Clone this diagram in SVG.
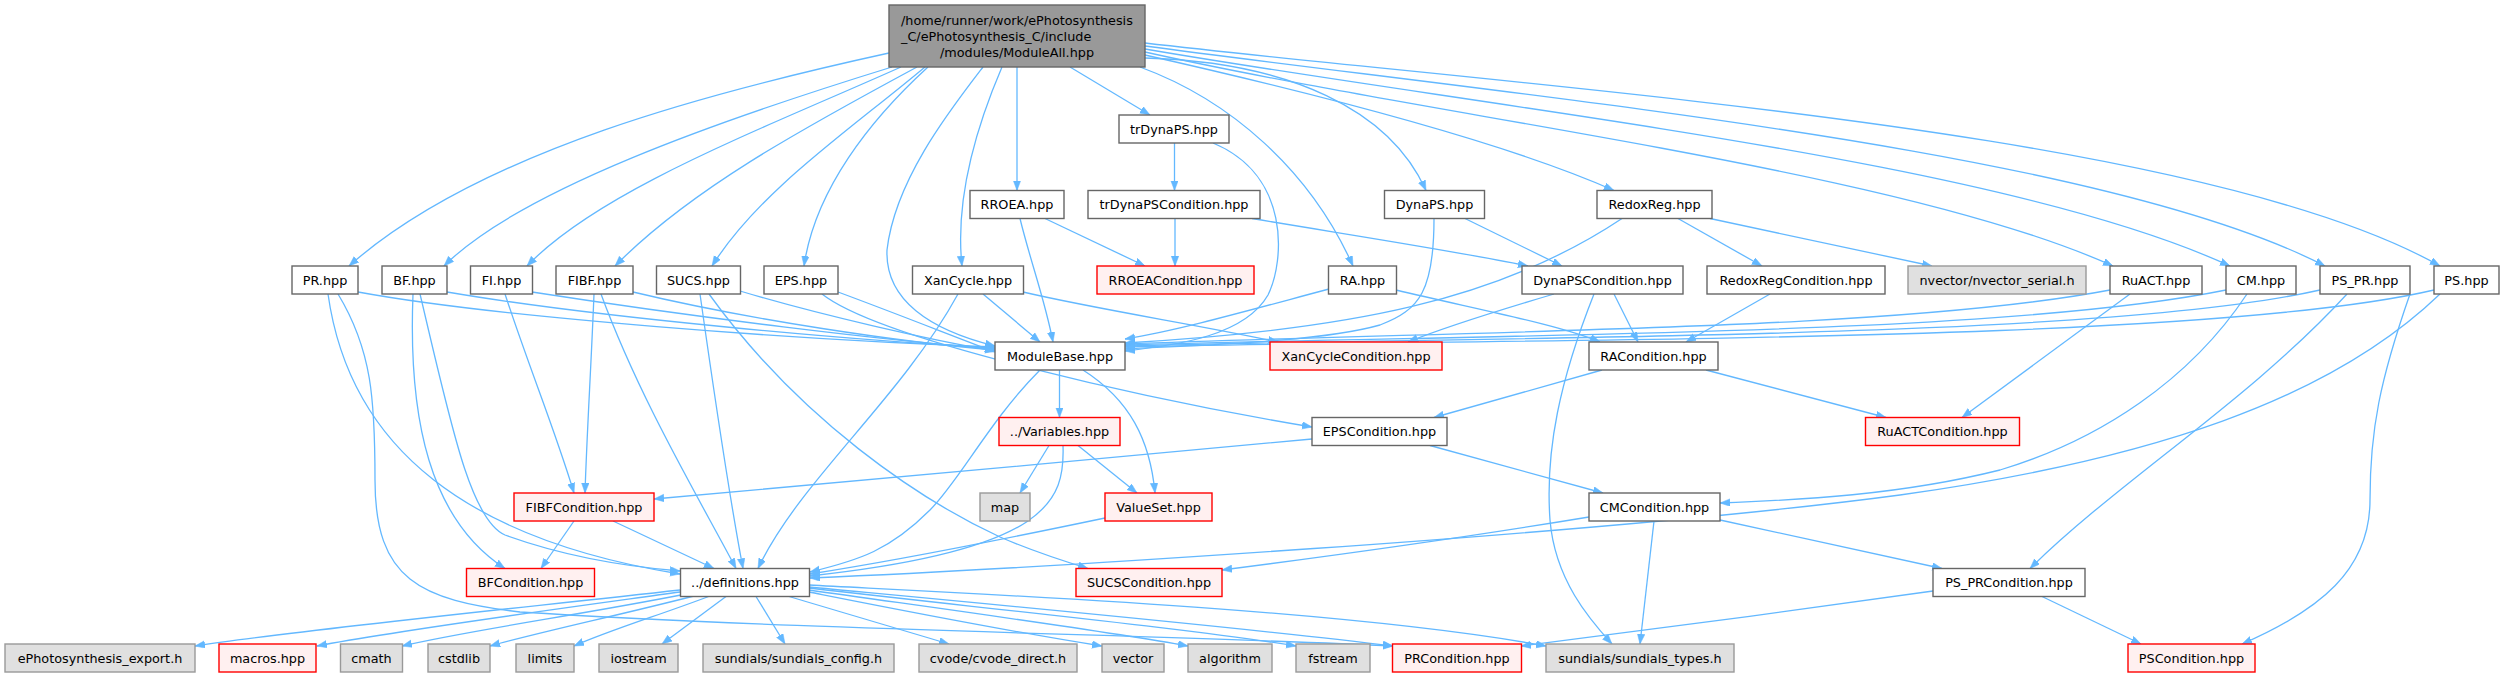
<svg xmlns="http://www.w3.org/2000/svg" width="2505" height="678" viewBox="0 0 2505 678">
<style>
rect{stroke-width:1.4}
.n rect{fill:#ffffff;stroke:#666666}
.r rect{fill:#fff0f0;stroke:#ff0000}
.g rect{fill:#e0e0e0;stroke:#999999}
.m rect{fill:#999999;stroke:#666666}
text{font-family:"DejaVu Sans",sans-serif;font-size:12.8px;fill:#000000;text-anchor:middle}
#edges path{fill:none;stroke:#63b8ff;stroke-width:1.3;marker-end:url(#ah)}
</style>
<defs>
<marker id="ah" markerUnits="userSpaceOnUse" markerWidth="11" markerHeight="9" refX="10" refY="3.75" orient="auto">
<path d="M0,0 L10,3.75 L0,7.5 z" fill="#63b8ff" stroke="#63b8ff" stroke-width="0.5"/>
</marker>
</defs>
<rect x="0" y="0" width="2505" height="678" fill="#ffffff"/>
<g id="edges">
<path d="M889,53 C720,90 480,150 349,266"/>
<path d="M892,67 C720,120 520,190 444,266"/>
<path d="M901,67 C760,130 600,190 527,266"/>
<path d="M917,67 C800,130 690,190 615,266"/>
<path d="M925,67 C850,130 760,190 712,266"/>
<path d="M928,67 C870,120 815,190 804,266"/>
<path d="M983,67 C950,110 895,180 887,250 C885,300 930,330 995,346"/>
<path d="M1002,67 C975,130 955,200 962,266"/>
<path d="M1017,67 L1017,190.5"/>
<path d="M1070,67 L1150,115"/>
<path d="M1140,67 C1230,100 1310,170 1353,266"/>
<path d="M1145,58 C1290,62 1390,110 1426,190.5"/>
<path d="M1145,55 C1300,90 1500,140 1614,190.5"/>
<path d="M1145,52 C1450,120 1900,170 2113,266"/>
<path d="M1145,49 C1500,110 2000,160 2230,266"/>
<path d="M1145,46 C1550,100 2100,150 2325,266"/>
<path d="M1145,43 C1550,90 2200,130 2440,266"/>
<path d="M1174.5,143 L1174.5,190.5"/>
<path d="M1213,143 C1290,175 1285,260 1268,295 C1245,335 1180,345 1125,351"/>
<path d="M1175,218.5 L1175,266"/>
<path d="M1252,218.5 C1350,235 1450,250 1528,266"/>
<path d="M1045,218.5 L1145,266"/>
<path d="M1020,218.5 C1030,260 1045,300 1053,342"/>
<path d="M1465,218.5 L1562,266"/>
<path d="M1434,218.5 C1434,290 1420,310 1380,325 C1320,342 1200,345 1125,349"/>
<path d="M1622,218.5 C1500,300 1350,330 1125,343"/>
<path d="M1678,218.5 L1762,266"/>
<path d="M1710,218.5 L1932,266"/>
<path d="M358,292 C500,318 800,340 995,347"/>
<path d="M328,294 C350,450 470,540 680,574"/>
<path d="M338,294 C372,350 375,400 375,480 C375,580 420,600 520,612 C800,630 1200,636 1393,646"/>
<path d="M447,292 C600,318 850,340 995,348"/>
<path d="M413,294 C408,420 430,520 505,568.5"/>
<path d="M420,294 C450,420 470,520 505,535 C560,555 620,566 680,571"/>
<path d="M532,292 C700,318 880,340 995,349"/>
<path d="M505,294 C530,370 555,430 574,493"/>
<path d="M633,292 C750,320 900,342 995,350"/>
<path d="M594,294 C591,370 587,430 585,493"/>
<path d="M601,294 C640,400 700,500 736,568.5"/>
<path d="M740,291 C820,315 930,340 995,351"/>
<path d="M700,294 C715,400 730,500 743,568.5"/>
<path d="M709,294 C800,420 920,500 1000,537 C1030,550 1060,560 1088,568.5"/>
<path d="M838,292 C900,315 950,335 995,352"/>
<path d="M822,294 C880,340 1150,400 1312,427"/>
<path d="M983,294 L1040,342"/>
<path d="M958,294 C900,400 800,480 758,568.5"/>
<path d="M1023,292 C1100,310 1200,325 1278,342"/>
<path d="M1329,289 C1250,310 1180,330 1125,339"/>
<path d="M1396,290 C1480,310 1560,325 1600,342"/>
<path d="M1554,294 C1500,310 1450,325 1408,342"/>
<path d="M1614,294 L1638,342"/>
<path d="M1594,294 C1560,380 1545,450 1550,520 C1555,580 1590,620 1612,644"/>
<path d="M1770,294 L1686,342"/>
<path d="M2110,290 C1900,330 1500,330 1125,344"/>
<path d="M2130,294 L1962,417.5"/>
<path d="M2226,290 C2000,336 1500,334 1125,345"/>
<path d="M2247,294 C2190,380 2100,440 2000,470 C1900,495 1800,500 1720,503"/>
<path d="M2320,290 C2100,340 1500,336 1125,346"/>
<path d="M2347,294 C2250,400 2120,480 2030,568.5"/>
<path d="M2434,290 C2200,345 1500,338 1125,347"/>
<path d="M2410,294 C2380,380 2370,430 2370,500 C2370,570 2320,610 2242,644"/>
<path d="M2440,294 C2330,400 2150,460 1900,495 C1600,535 1000,570 810,578"/>
<path d="M1059.5,370 L1059.5,417.5"/>
<path d="M1083,370 C1130,400 1150,440 1155,493"/>
<path d="M1040,370 C990,420 960,480 930,510 C890,550 860,560 810,572"/>
<path d="M1049,445.5 L1020,493"/>
<path d="M1078,445.5 L1137,493"/>
<path d="M1063,445.5 C1065,500 1050,550 810,576"/>
<path d="M1105,518 C1000,540 900,560 810,574"/>
<path d="M1602,370 L1434,417.5"/>
<path d="M1706,370 L1886,417.5"/>
<path d="M1312,439 C1100,460 850,480 654,499"/>
<path d="M1430,445.5 L1603,493"/>
<path d="M1589,517 C1450,540 1300,560 1222,570"/>
<path d="M1720,520 L1942,568.5"/>
<path d="M1654,521 L1640,644"/>
<path d="M574,521 L541,568.5"/>
<path d="M613,521 L714,568.5"/>
<path d="M1933,591 C1800,610 1650,630 1521,646"/>
<path d="M2042,596.5 L2141,644"/>
<path d="M680,590 C500,610 300,630 195,646"/>
<path d="M680,592 C550,610 400,630 317,646"/>
<path d="M686,594 C580,615 470,630 402,646"/>
<path d="M694,596 C620,615 540,632 490,646"/>
<path d="M710,596 C660,615 610,630 574,646"/>
<path d="M726,596.5 L662,644"/>
<path d="M756,596.5 L785,644"/>
<path d="M789,596.5 L949,644"/>
<path d="M809,592 C900,610 1000,630 1102,646"/>
<path d="M809,590 C950,610 1100,630 1188,646"/>
<path d="M809,588 C1000,610 1200,630 1296,646"/>
<path d="M809,587 C1000,605 1250,628 1393,646"/>
<path d="M809,585 C1000,595 1350,610 1546,646"/>
</g>
<g id="n_main" class="m"><rect x="889" y="5" width="256" height="62"/>
<text x="901" y="25" style="text-anchor:start">/home/runner/work/ePhotosynthesis</text>
<text x="901" y="41" style="text-anchor:start">_C/ePhotosynthesis_C/include</text>
<text x="1017" y="57">/modules/ModuleAll.hpp</text></g>
<g id="n_trDynaPS" class="n"><rect x="1119" y="115" width="110" height="28"/><text x="1174" y="133.7">trDynaPS.hpp</text></g>
<g id="n_RROEA" class="n"><rect x="970" y="190.5" width="94" height="28"/><text x="1017" y="209.2">RROEA.hpp</text></g>
<g id="n_trDynaPSCondition" class="n"><rect x="1088" y="190.5" width="172" height="28"/><text x="1174" y="209.2">trDynaPSCondition.hpp</text></g>
<g id="n_DynaPS" class="n"><rect x="1384.5" y="190.5" width="100" height="28"/><text x="1434.5" y="209.2">DynaPS.hpp</text></g>
<g id="n_RedoxReg" class="n"><rect x="1597" y="190.5" width="115" height="28"/><text x="1654.5" y="209.2">RedoxReg.hpp</text></g>
<g id="n_PR" class="n"><rect x="292" y="266" width="66" height="28"/><text x="325" y="284.7">PR.hpp</text></g>
<g id="n_BF" class="n"><rect x="382" y="266" width="65" height="28"/><text x="414.5" y="284.7">BF.hpp</text></g>
<g id="n_FI" class="n"><rect x="470.5" y="266" width="62" height="28"/><text x="501.5" y="284.7">FI.hpp</text></g>
<g id="n_FIBF" class="n"><rect x="556" y="266" width="77" height="28"/><text x="594.5" y="284.7">FIBF.hpp</text></g>
<g id="n_SUCS" class="n"><rect x="656.5" y="266" width="84" height="28"/><text x="698.5" y="284.7">SUCS.hpp</text></g>
<g id="n_EPS" class="n"><rect x="764" y="266" width="74" height="28"/><text x="801" y="284.7">EPS.hpp</text></g>
<g id="n_XanCycle" class="n"><rect x="912.5" y="266" width="111" height="28"/><text x="968" y="284.7">XanCycle.hpp</text></g>
<g id="n_RROEACondition" class="r"><rect x="1097" y="266" width="157" height="28"/><text x="1175.5" y="284.7">RROEACondition.hpp</text></g>
<g id="n_RA" class="n"><rect x="1328.5" y="266" width="68" height="28"/><text x="1362.5" y="284.7">RA.hpp</text></g>
<g id="n_DynaPSCondition" class="n"><rect x="1522" y="266" width="161" height="28"/><text x="1602.5" y="284.7">DynaPSCondition.hpp</text></g>
<g id="n_RedoxRegCondition" class="n"><rect x="1707" y="266" width="178" height="28"/><text x="1796" y="284.7">RedoxRegCondition.hpp</text></g>
<g id="n_nvector" class="g"><rect x="1908" y="266" width="178" height="28"/><text x="1997" y="284.7">nvector/nvector_serial.h</text></g>
<g id="n_RuACT" class="n"><rect x="2110" y="266" width="92" height="28"/><text x="2156" y="284.7">RuACT.hpp</text></g>
<g id="n_CM" class="n"><rect x="2226" y="266" width="70" height="28"/><text x="2261" y="284.7">CM.hpp</text></g>
<g id="n_PS_PR" class="n"><rect x="2320" y="266" width="90" height="28"/><text x="2365" y="284.7">PS_PR.hpp</text></g>
<g id="n_PS" class="n"><rect x="2434" y="266" width="65" height="28"/><text x="2466.5" y="284.7">PS.hpp</text></g>
<g id="n_ModuleBase" class="n"><rect x="995" y="342" width="130" height="28"/><text x="1060" y="360.7">ModuleBase.hpp</text></g>
<g id="n_XanCycleCondition" class="r"><rect x="1270" y="342" width="172" height="28"/><text x="1356" y="360.7">XanCycleCondition.hpp</text></g>
<g id="n_RACondition" class="n"><rect x="1589" y="342" width="129" height="28"/><text x="1653.5" y="360.7">RACondition.hpp</text></g>
<g id="n_Variables" class="r"><rect x="999" y="417.5" width="121" height="28"/><text x="1059.5" y="436.2">../Variables.hpp</text></g>
<g id="n_EPSCondition" class="n"><rect x="1312" y="417.5" width="135" height="28"/><text x="1379.5" y="436.2">EPSCondition.hpp</text></g>
<g id="n_RuACTCondition" class="r"><rect x="1865.5" y="417.5" width="154" height="28"/><text x="1942.5" y="436.2">RuACTCondition.hpp</text></g>
<g id="n_map" class="g"><rect x="980" y="493" width="50" height="28"/><text x="1005" y="511.7">map</text></g>
<g id="n_ValueSet" class="r"><rect x="1105" y="493" width="107" height="28"/><text x="1158.5" y="511.7">ValueSet.hpp</text></g>
<g id="n_FIBFCondition" class="r"><rect x="514" y="493" width="140" height="28"/><text x="584" y="511.7">FIBFCondition.hpp</text></g>
<g id="n_CMCondition" class="n"><rect x="1589" y="493" width="131" height="28"/><text x="1654.5" y="511.7">CMCondition.hpp</text></g>
<g id="n_definitions" class="n"><rect x="680.5" y="568.5" width="129" height="28"/><text x="745" y="587.2">../definitions.hpp</text></g>
<g id="n_BFCondition" class="r"><rect x="466.5" y="568.5" width="128" height="28"/><text x="530.5" y="587.2">BFCondition.hpp</text></g>
<g id="n_SUCSCondition" class="r"><rect x="1076" y="568.5" width="146" height="28"/><text x="1149" y="587.2">SUCSCondition.hpp</text></g>
<g id="n_PS_PRCondition" class="n"><rect x="1933" y="568.5" width="152" height="28"/><text x="2009" y="587.2">PS_PRCondition.hpp</text></g>
<g id="n_export" class="g"><rect x="5" y="644" width="190" height="28"/><text x="100" y="662.7">ePhotosynthesis_export.h</text></g>
<g id="n_macros" class="r"><rect x="219" y="644" width="97" height="28"/><text x="267.5" y="662.7">macros.hpp</text></g>
<g id="n_cmath" class="g"><rect x="340.5" y="644" width="62" height="28"/><text x="371.5" y="662.7">cmath</text></g>
<g id="n_cstdlib" class="g"><rect x="428" y="644" width="62" height="28"/><text x="459" y="662.7">cstdlib</text></g>
<g id="n_limits" class="g"><rect x="516" y="644" width="58" height="28"/><text x="545" y="662.7">limits</text></g>
<g id="n_iostream" class="g"><rect x="599" y="644" width="79" height="28"/><text x="638.5" y="662.7">iostream</text></g>
<g id="n_sundials_config" class="g"><rect x="703" y="644" width="191" height="28"/><text x="798.5" y="662.7">sundials/sundials_config.h</text></g>
<g id="n_cvode" class="g"><rect x="919" y="644" width="158" height="28"/><text x="998" y="662.7">cvode/cvode_direct.h</text></g>
<g id="n_vector" class="g"><rect x="1102" y="644" width="62" height="28"/><text x="1133" y="662.7">vector</text></g>
<g id="n_algorithm" class="g"><rect x="1188" y="644" width="84" height="28"/><text x="1230" y="662.7">algorithm</text></g>
<g id="n_fstream" class="g"><rect x="1296" y="644" width="74" height="28"/><text x="1333" y="662.7">fstream</text></g>
<g id="n_PRCondition" class="r"><rect x="1392.5" y="644" width="129" height="28"/><text x="1457" y="662.7">PRCondition.hpp</text></g>
<g id="n_sundials_types" class="g"><rect x="1546" y="644" width="188" height="28"/><text x="1640" y="662.7">sundials/sundials_types.h</text></g>
<g id="n_PSCondition" class="r"><rect x="2128" y="644" width="127" height="28"/><text x="2191.5" y="662.7">PSCondition.hpp</text></g>
</svg>
